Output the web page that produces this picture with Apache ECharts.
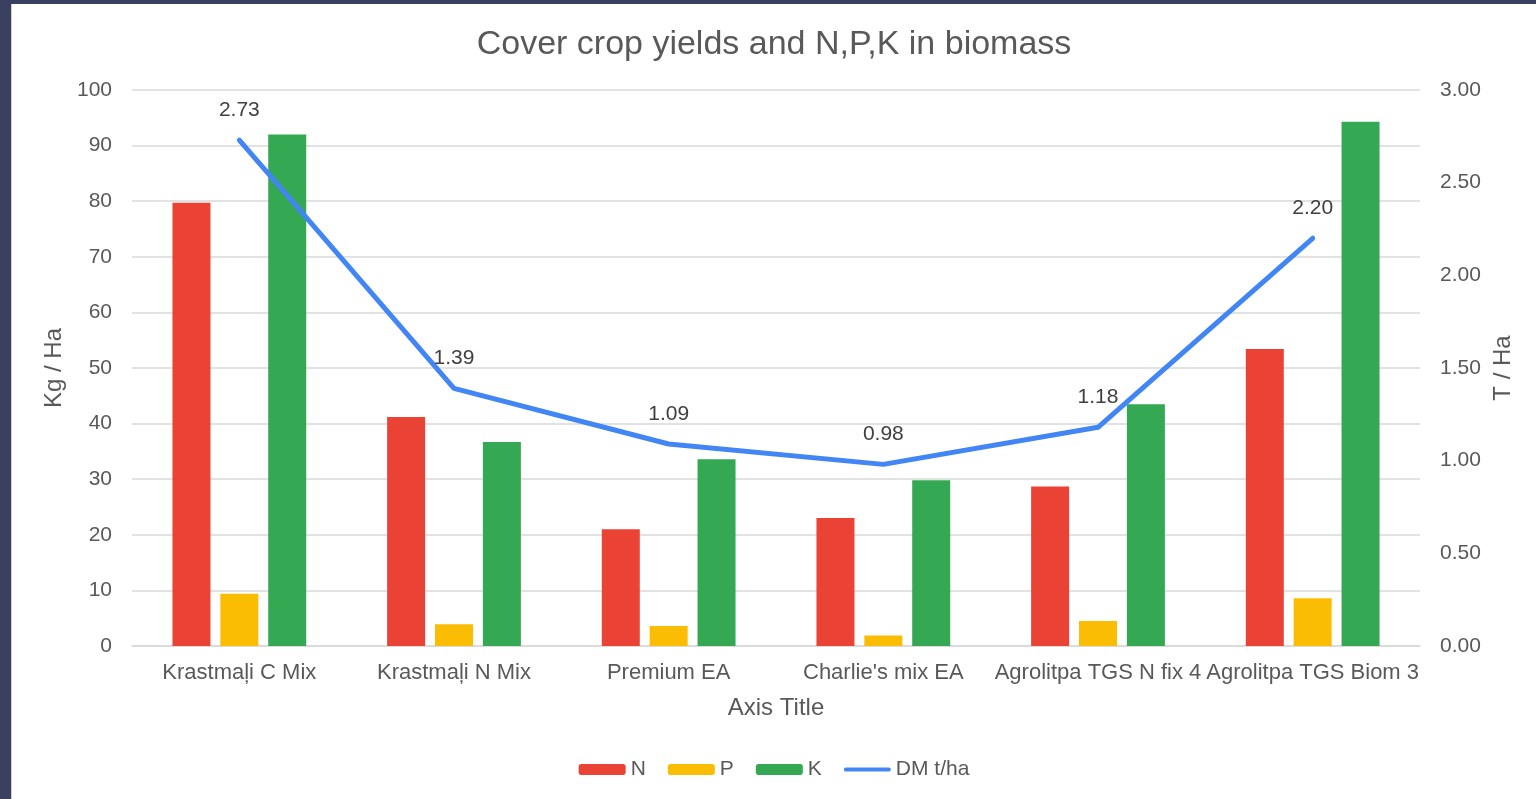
<!DOCTYPE html>
<html>
<head>
    <meta http-equiv="Content-Type" content="text/html; charset=UTF-8">
    <title>Cover crop yields</title>
    <script type="text/javascript" src="https://cdn.jsdelivr.net/npm/echarts@6/dist/echarts.min.js"></script>
    <style>
        html, body { margin: 0; padding: 0; background: #3a4160; }
        /*白色面板*/
        #panel {
            position: absolute;
            left: 11px;
            top: 4px;
            width: 1525px;
            height: 795px;
            background: #fff;
            border-left: 1px solid #d0d0d0;
        }
        #main { width: 1524px; height: 795px; }
    </style>
    <script type="text/javascript">
        // categories and values
        var categories = ['Krastmaļi C Mix', 'Krastmaļi N Mix', 'Premium EA', "Charlie's mix EA", 'Agrolitpa TGS N fix 4', 'Agrolitpa TGS Biom 3'];
        var nValues = [79.7, 41.2, 21.0, 23.0, 28.7, 53.4];
        var pValues = [9.4, 3.9, 3.6, 1.9, 4.5, 8.6];
        var kValues = [92.0, 36.7, 33.6, 29.8, 43.5, 94.3];
        var dmValues = [2.73, 1.39, 1.09, 0.98, 1.18, 2.20];
        var leftTicks = {min: 0, max: 100, interval: 10};
        var rightTicks = {min: 0, max: 3, interval: 0.5};

        var txt = '#595959';
        var fam = 'Liberation Sans, Arial, sans-serif';

        window.onload = function () {
            var chart = echarts.init(document.getElementById('main'));
            var barStyle = function (name, color, data) {
                return {
                    name: name, type: 'bar', data: data,
                    barWidth: 38, barGap: '26%',
                    itemStyle: {color: color},
                    emphasis: {disabled: true}
                };
            };
            var option = {
                animation: false,
                textStyle: {fontFamily: fam},
                title: {
                    text: 'Cover crop yields and N,P,K in biomass',
                    left: 'center', top: 19,
                    textStyle: {color: txt, fontSize: 34, fontWeight: 'normal', fontFamily: fam}
                },
                legend: {
                    bottom: 14, left: 'center',
                    itemWidth: 47, itemHeight: 11, itemGap: 22,
                    textStyle: {color: txt, fontSize: 21, fontFamily: fam},
                    data: ['N', 'P', 'K', {name: 'DM t/ha', icon: 'path://M2,0 L44,0 A2,2 0 0 1 44,4 L2,4 A2,2 0 0 1 2,0 Z'}]
                },
                grid: {left: 120, right: 116, top: 86, bottom: 153},
                xAxis: {
                    type: 'category', data: categories,
                    name: 'Axis Title', nameLocation: 'middle', nameGap: 50,
                    nameTextStyle: {color: txt, fontSize: 24},
                    axisTick: {show: false},
                    axisLine: {lineStyle: {color: '#d9d9d9', width: 1.5}},
                    axisLabel: {color: txt, fontSize: 22, margin: 16, interval: 0}
                },
                yAxis: [{
                    type: 'value', min: leftTicks.min, max: leftTicks.max, interval: leftTicks.interval,
                    name: 'Kg / Ha', nameLocation: 'middle', nameGap: 57,
                    nameTextStyle: {color: txt, fontSize: 24},
                    axisLabel: {color: txt, fontSize: 21, margin: 20},
                    splitLine: {lineStyle: {color: '#d9d9d9', width: 1.5}}
                }, {
                    type: 'value', min: rightTicks.min, max: rightTicks.max, interval: rightTicks.interval,
                    name: 'T / Ha', nameLocation: 'middle', nameGap: 68,
                    nameTextStyle: {color: txt, fontSize: 24},
                    axisLabel: {color: txt, fontSize: 21, margin: 20, formatter: function (v) { return v.toFixed(2); }},
                    splitLine: {show: false}
                }],
                series: [
                    barStyle('N', '#EA4335', nValues),
                    barStyle('P', '#FBBC04', pValues),
                    barStyle('K', '#34A853', kValues),
                    {
                        name: 'DM t/ha', type: 'line', yAxisIndex: 1, data: dmValues,
                        symbol: 'circle', symbolSize: 1,
                        itemStyle: {color: '#4285F4'},
                        lineStyle: {color: '#4285F4', width: 5, cap: 'round', join: 'round'},
                        label: {
                            show: true, position: 'top', distance: 19,
                            color: '#404040', fontSize: 21,
                            formatter: function (p) { return p.value.toFixed(2); }
                        },
                        emphasis: {disabled: true}
                    }
                ]
            };
            chart.setOption(option);
        };
    </script>
</head>
<body>
<div id="panel"><div id="main"></div></div>
</body>
</html>
